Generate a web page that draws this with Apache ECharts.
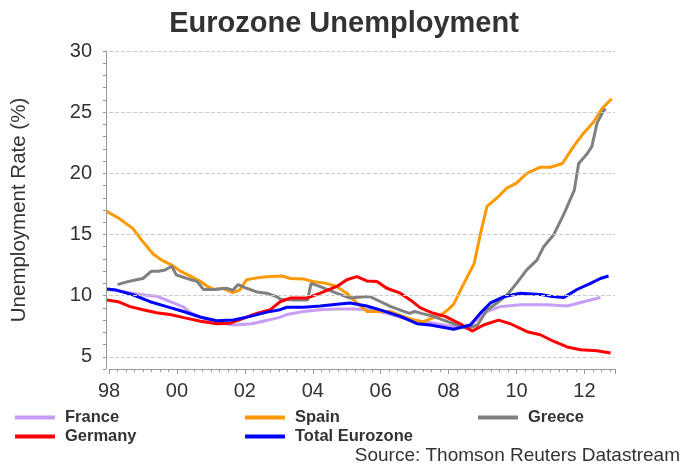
<!DOCTYPE html>
<html>
<head>
<meta charset="utf-8">
<script src="https://cdn.jsdelivr.net/npm/echarts@6/dist/echarts.min.js"></script>
<style>
  html, body { margin: 0; padding: 0; background: #fff; }
  #main { width: 688px; height: 468px; }
</style>
</head>
<body>
<div id="main"></div>
<script>
// [decimal year, unemployment %]
const france = [[1997.93,10.5],[1998.5,10.3],[1998.9,10.1],[1999.4,9.95],[1999.8,9.5],[2000.2,9.05],[2000.4,8.6],[2000.9,8.0],[2001.3,7.75],[2001.7,7.6],[2002.2,7.7],[2002.6,7.95],[2003.0,8.2],[2003.24,8.45],[2003.73,8.7],[2004.22,8.85],[2004.71,8.9],[2005.2,8.9],[2005.69,8.85],[2006.18,8.55],[2006.67,8.15],[2007.17,7.9],[2007.66,7.7],[2008.05,7.5],[2008.35,7.4],[2008.64,7.6],[2009.13,8.7],[2009.52,9.1],[2010.11,9.25],[2010.9,9.25],[2011.49,9.15],[2011.98,9.5],[2012.47,9.85]];
const spain = [[1997.93,16.9],[1998.3,16.3],[1998.7,15.5],[1999.0,14.4],[1999.3,13.4],[1999.55,12.9],[1999.85,12.5],[2000.1,12.0],[2000.4,11.6],[2000.7,11.15],[2000.9,10.75],[2001.1,10.5],[2001.35,10.6],[2001.65,10.25],[2001.85,10.45],[2002.05,11.3],[2002.35,11.45],[2002.65,11.55],[2003.1,11.6],[2003.35,11.4],[2003.75,11.35],[2004.0,11.15],[2004.4,11.0],[2004.7,10.75],[2005.0,10.2],[2005.3,9.4],[2005.6,8.7],[2005.9,8.7],[2006.3,8.7],[2006.65,8.3],[2007.0,8.0],[2007.25,7.85],[2007.45,8.1],[2007.75,8.35],[2008.0,8.9],[2008.15,9.3],[2008.45,11.0],[2008.75,12.6],[2008.95,15.2],[2009.13,17.3],[2009.43,18.0],[2009.72,18.8],[2010.0,19.2],[2010.3,20.0],[2010.7,20.5],[2011.0,20.5],[2011.35,20.8],[2011.68,22.2],[2011.98,23.3],[2012.27,24.2],[2012.52,25.3],[2012.8,26.1]];
const greece = [[1998.25,10.9],[1998.5,11.1],[1998.8,11.3],[1999.0,11.4],[1999.25,12.0],[1999.45,12.0],[1999.65,12.1],[1999.85,12.4],[1999.98,11.7],[2000.3,11.4],[2000.6,11.15],[2000.78,10.5],[2001.1,10.5],[2001.45,10.6],[2001.65,10.45],[2001.8,10.9],[2002.05,10.6],[2002.35,10.3],[2002.65,10.2],[2002.95,9.9],[2003.05,9.7],[2003.45,9.65],[2003.85,9.65],[2003.95,11.0],[2004.2,10.75],[2004.7,10.2],[2005.1,9.8],[2005.5,9.9],[2005.7,9.9],[2006.0,9.5],[2006.3,9.1],[2006.6,8.8],[2006.85,8.55],[2007.0,8.7],[2007.2,8.55],[2007.55,8.3],[2007.85,8.0],[2008.25,7.6],[2008.55,7.3],[2008.85,7.6],[2009.13,8.8],[2009.42,9.4],[2009.72,10.05],[2010.0,11.0],[2010.3,12.1],[2010.6,12.9],[2010.8,14.0],[2011.1,15.0],[2011.4,16.7],[2011.7,18.6],[2011.83,20.8],[2012.08,21.6],[2012.22,22.2],[2012.37,24.1],[2012.52,24.9],[2012.62,25.3]];
const germany = [[1997.93,9.65],[1998.27,9.5],[1998.62,9.1],[1999.0,8.85],[1999.4,8.6],[1999.8,8.45],[2000.2,8.2],[2000.7,7.9],[2001.17,7.7],[2001.57,7.75],[2001.96,8.15],[2002.35,8.55],[2002.75,8.85],[2003.04,9.5],[2003.33,9.8],[2003.83,9.8],[2004.22,10.2],[2004.71,10.75],[2005.0,11.3],[2005.3,11.55],[2005.59,11.2],[2005.89,11.15],[2006.18,10.6],[2006.58,10.2],[2006.87,9.65],[2007.17,9.0],[2007.5,8.6],[2007.9,8.3],[2008.34,7.7],[2008.69,7.1],[2009.03,7.6],[2009.47,8.0],[2009.82,7.7],[2010.31,7.05],[2010.7,6.8],[2011.1,6.25],[2011.49,5.8],[2011.88,5.57],[2012.37,5.5],[2012.77,5.3]];
const eurozone = [[1997.93,10.55],[1998.22,10.45],[1998.72,10.05],[1999.21,9.5],[1999.7,9.1],[2000.19,8.7],[2000.68,8.25],[2001.17,7.95],[2001.66,8.0],[2002.16,8.3],[2002.65,8.65],[2003.04,8.85],[2003.24,9.05],[2003.73,9.05],[2004.22,9.15],[2004.71,9.3],[2005.1,9.4],[2005.59,9.15],[2006.08,8.75],[2006.58,8.3],[2007.07,7.7],[2007.46,7.6],[2007.95,7.35],[2008.15,7.25],[2008.64,7.6],[2008.93,8.55],[2009.23,9.4],[2009.62,9.9],[2010.11,10.2],[2010.7,10.1],[2011.0,9.95],[2011.39,9.85],[2011.78,10.5],[2012.18,11.0],[2012.47,11.4],[2012.71,11.6]];

const yTicks = [5, 10, 15, 20, 25, 30];

const font = 'Liberation Sans';
const textColor = '#333';

const chart = echarts.init(document.getElementById('main'));

const line = (name, data, color) => ({
  name, type: 'line', data,
  showSymbol: false, symbol: 'none',
  lineStyle: { color, width: 3 },
  itemStyle: { color },
  animation: false
});

const legendBase = {
  orient: 'vertical', top: 409, padding: 0, itemGap: 2,
  icon: 'rect', itemWidth: 40, itemHeight: 4,
  textStyle: { fontFamily: font, fontSize: 16.5, fontWeight: 'bold', color: textColor,
    lineHeight: 17, padding: [0, 0, 0, 5] }
};

const series = [
  line('France', france, '#c79df7'),
  line('Spain', spain, '#ff9900'),
  line('Greece', greece, '#808080'),
  line('Germany', germany, '#ff0000'),
  line('Total Eurozone', eurozone, '#0000ff')
];
// dashed horizontal grid at labelled values
series[0].markLine = {
  silent: true, symbol: 'none', label: { show: false },
  lineStyle: { type: 'dashed', color: '#cccccc', width: 1 },
  data: yTicks.map(v => ({ yAxis: v }))
};

chart.setOption({
  backgroundColor: '#fff',
  title: [
    { text: 'Eurozone Unemployment', left: 'center', top: 4,
      textStyle: { fontFamily: font, fontSize: 29, fontWeight: 'bold', color: textColor } },
    { text: 'Source: Thomson Reuters Datastream', right: 8, top: 446, padding: 0,
      textStyle: { fontFamily: font, fontSize: 19, fontWeight: 'normal', color: textColor } }
  ],
  legend: [
    Object.assign({}, legendBase, { left: 15, data: ['France', 'Germany'] }),
    Object.assign({}, legendBase, { left: 245, data: ['Spain', 'Total Eurozone'] }),
    Object.assign({}, legendBase, { left: 478, data: ['Greece'] })
  ],
  grid: { left: 109, right: 73, top: 51, bottom: 99 },
  xAxis: {
    type: 'value', min: 1998, max: 2012.9, interval: 2,
    axisLine: { lineStyle: { color: '#999' } },
    axisTick: { length: 5, lineStyle: { color: '#999' } },
    minorTick: { show: true, splitNumber: 8, length: 3, lineStyle: { color: '#999' } },
    splitLine: { show: false },
    axisLabel: {
      margin: 12, fontFamily: font, fontSize: 20, color: textColor,
      showMaxLabel: false,
      formatter: v => String(Math.round(v) % 100).padStart(2, '0')
    }
  },
  yAxis: {
    type: 'value', min: 4, max: 30, interval: 1, offset: 3,
    name: 'Unemployment Rate (%)', nameLocation: 'middle', nameGap: 76,
    nameTextStyle: { fontFamily: font, fontSize: 20.5, color: textColor },
    axisLine: { show: true, lineStyle: { color: '#999' } },
    axisTick: { show: true, length: 3, lineStyle: { color: '#999' } },
    splitLine: { show: false },
    axisLabel: {
      margin: 14, fontFamily: font, fontSize: 20, color: textColor,
      formatter: v => (v % 5 === 0 ? String(v) : '')
    }
  },
  series
});
</script>
</body>
</html>
